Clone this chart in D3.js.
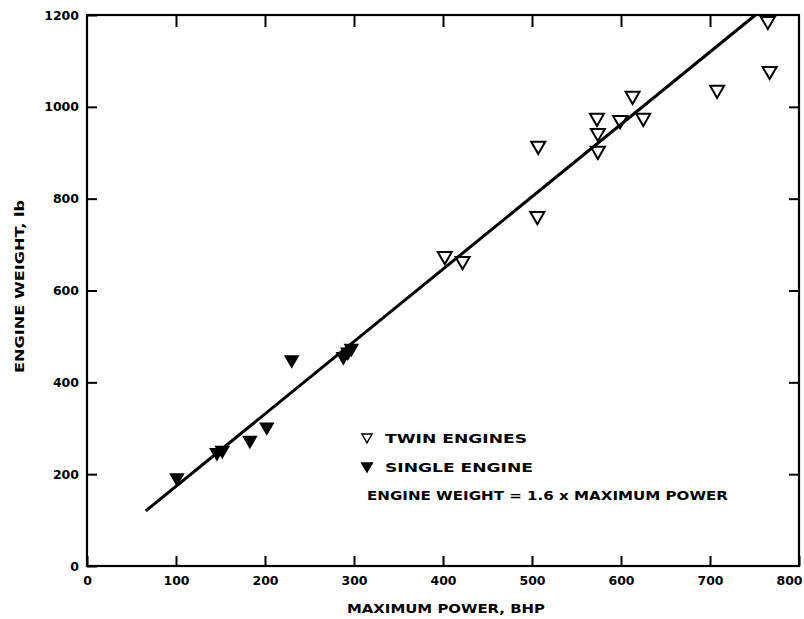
<!DOCTYPE html>
<html><head><meta charset="utf-8">
<script src="https://cdn.jsdelivr.net/npm/d3@7"></script>
<style>
body{margin:0;background:#fff;}
text{font-family:"DejaVu Sans",sans-serif;font-weight:bold;fill:#000;}
</style></head>
<body><svg id="c" width="804" height="619"></svg>
<script>
// Data
const twinPower  = [402, 422, 507, 506, 573, 574, 574, 599, 613, 625, 708, 767, 765];
const twinWeight = [675, 664, 915, 762, 976, 943, 904, 971, 1024, 976, 1037, 1078, 1187];
const singlePower  = [101, 146, 152, 183, 202, 230, 288, 293, 297];
const singleWeight = [192, 247, 252, 274, 303, 449, 456, 466, 474];
const fitPower  = [66, 751];
const fitWeight = [120, 1200];
const xTicks = [0, 100, 200, 300, 400, 500, 600, 700, 800];
const yTicks = [0, 200, 400, 600, 800, 1000, 1200];

const svg = d3.select("#c");
const x = d3.scaleLinear().domain([0, 800]).range([87, 799]);
const y = d3.scaleLinear().domain([0, 1200]).range([566, 15]);

// axes with inward ticks
const gb = svg.append("g").attr("transform", "translate(0,566)")
  .call(d3.axisBottom(x).tickValues(xTicks).tickSize(-10).tickSizeOuter(0).tickPadding(10).tickFormat(d3.format("d")));
const gl = svg.append("g").attr("transform", "translate(87,0)")
  .call(d3.axisLeft(y).tickValues(yTicks).tickSize(-10).tickSizeOuter(0).tickPadding(8).tickFormat(d3.format("d")));
const gt = svg.append("g").attr("transform", "translate(0,15)")
  .call(d3.axisTop(x).tickValues(xTicks.slice(1, -1)).tickSize(-12).tickSizeOuter(0).tickFormat(""));
const gr = svg.append("g").attr("transform", "translate(799,0)")
  .call(d3.axisRight(y).tickValues(yTicks.slice(1, -1)).tickSize(-10).tickSizeOuter(0).tickFormat(""));
[gb, gl, gt, gr].forEach(g => {
  g.select(".domain").remove();
  g.selectAll(".tick line").attr("stroke", "#000").attr("stroke-width", 2);
  g.selectAll(".tick text").attr("font-size", 12.5).attr("font-family", "DejaVu Sans").attr("font-weight", "bold");
});
// keep the last x label inside the page
gb.selectAll(".tick text").filter(d => d === 800).attr("dx", -10);

// frame
svg.append("rect").attr("x", x(0)).attr("y", y(1200))
  .attr("width", x(800) - x(0)).attr("height", y(0) - y(1200))
  .attr("fill", "none").attr("stroke", "#000").attr("stroke-width", 2.2);

// fit line
const line = d3.line().x(d => x(d[0])).y(d => y(d[1]));
svg.append("path").datum(d3.zip(fitPower, fitWeight)).attr("d", line)
  .attr("fill", "none").attr("stroke", "#000").attr("stroke-width", 3);

const tri = d3.symbol().type(d3.symbolTriangle);

// single engine (filled)
svg.append("g").selectAll("path").data(d3.zip(singlePower, singleWeight)).join("path")
  .attr("d", tri.size(105)())
  .attr("transform", d => `translate(${x(d[0])},${y(d[1])}) rotate(180)`)
  .attr("fill", "#000");

// twin engines (open)
svg.append("g").selectAll("path").data(d3.zip(twinPower, twinWeight)).join("path")
  .attr("d", tri.size(85)())
  .attr("transform", d => `translate(${x(d[0])},${y(d[1])}) rotate(180)`)
  .attr("fill", "none").attr("stroke", "#000").attr("stroke-width", 2);

// legend
svg.append("path").attr("d", d3.symbol().type(d3.symbolTriangle).size(45)())
  .attr("transform", "translate(367,437) rotate(180)")
  .attr("fill", "none").attr("stroke", "#000").attr("stroke-width", 1.4);
svg.append("path").attr("d", d3.symbol().type(d3.symbolTriangle).size(75)())
  .attr("transform", "translate(367,466) rotate(180)").attr("fill", "#000");
svg.append("text").attr("x", 385).attr("y", 443).attr("font-size", 12.5)
  .attr("textLength", 142).attr("lengthAdjust", "spacingAndGlyphs").text("TWIN ENGINES");
svg.append("text").attr("x", 385).attr("y", 472).attr("font-size", 12.5)
  .attr("textLength", 148).attr("lengthAdjust", "spacingAndGlyphs").text("SINGLE ENGINE");
svg.append("text").attr("x", 367).attr("y", 500).attr("font-size", 12.5)
  .attr("textLength", 361).attr("lengthAdjust", "spacingAndGlyphs").text("ENGINE WEIGHT = 1.6 x MAXIMUM POWER");

// axis titles
svg.append("text").attr("x", 347).attr("y", 613).attr("font-size", 12)
  .attr("textLength", 198).attr("lengthAdjust", "spacingAndGlyphs").text("MAXIMUM POWER, BHP");
svg.append("text").attr("transform", "translate(24,373) rotate(-90)").attr("font-size", 12)
  .attr("textLength", 173).attr("lengthAdjust", "spacingAndGlyphs").text("ENGINE WEIGHT, lb");
</script>
</body></html>
